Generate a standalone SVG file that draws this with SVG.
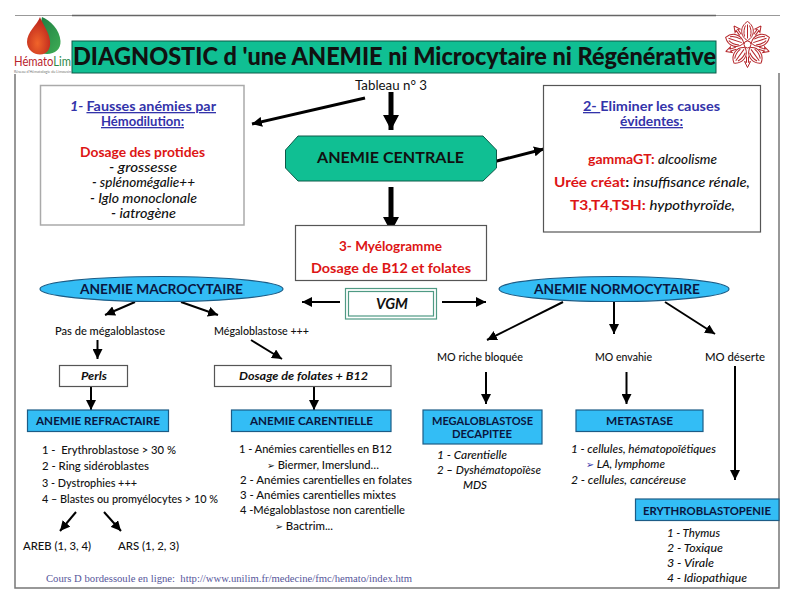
<svg xmlns="http://www.w3.org/2000/svg" xmlns:xlink="http://www.w3.org/1999/xlink" width="800" height="602" viewBox="0 0 800 602">
<style>
text{font-family:"Lato","Open Sans",sans-serif;fill:#111;font-size:12px;white-space:pre}
.t{font-size:12px;font-weight:500}
.i{font-style:italic;font-size:12.500px;font-weight:500}
.s{font-style:italic;font-size:12px;font-weight:500}
.bb{font-weight:700;font-size:11.500px;fill:#0a1640}
.h{font-weight:700;font-size:13px;fill:#3333aa}
.r{font-weight:700;font-size:13px;fill:#dd1515}
.u{text-decoration:underline}
.box{fill:#fff;stroke:#555;stroke-width:1.2}
.gbox{fill:#fff;stroke:#aaa;stroke-width:1.5}
.blue{fill:#33bdf5;stroke:#1c5c86;stroke-width:1.2}
.green{fill:#10bf93;stroke:#0c5a48;stroke-width:1}
.a{fill:none;stroke:#000;stroke-width:2}
.a3{fill:none;stroke:#000;stroke-width:3}
.a5{fill:none;stroke:#000;stroke-width:5}
.f{fill:none;stroke:#b5262a;stroke-width:1}
</style>
<defs>
<marker id="m" markerUnits="userSpaceOnUse" markerWidth="11" markerHeight="10" refX="10" refY="5" orient="auto"><path d="M0 0L10 5L0 10Z" fill="#000"/></marker>
<marker id="m5" markerUnits="userSpaceOnUse" markerWidth="16" markerHeight="16" refX="15" refY="8" orient="auto"><path d="M0 0L15 8L0 16Z" fill="#000"/></marker>
<radialGradient id="rd" cx="0.45" cy="0.7" r="0.7"><stop offset="0" stop-color="#f0642a"/><stop offset="1" stop-color="#b8201c"/></radialGradient>
<linearGradient id="gr" x1="0" y1="0" x2="1" y2="1"><stop offset="0" stop-color="#1c7a42"/><stop offset="1" stop-color="#3fae55"/></linearGradient>
<g id="petal">
<path class="f" d="M0 -4C-7.500 -8 -8 -18 0 -23C8 -18 7.500 -8 0 -4Z"/>
<path class="f" d="M0 -6V-20M-3 -8C-4 -12 -3.500 -16 -2 -19M3 -8C4 -12 3.500 -16 2 -19"/>
</g>
<path id="tip" class="f" d="M0 -23L-3 -17L-1 -18V-12M0 -23L3 -17L1 -18V-12"/>
</defs>

<g id="frame" fill="none">
<path d="M15 15.500H72M716 15.500H780" stroke="#999" stroke-width="1"/>
<path d="M72 15.500H716" stroke="#666" stroke-width="1.500"/>
<path d="M15 74V588H779V73" stroke="#777" stroke-width="1.500"/>
</g>

<g id="logo-hematolim">
<path d="M42 17C50 20 60 30 60.500 41C61 49 55 54 47 54C40 54 36 50 37 40Z" fill="url(#gr)"/>
<path d="M40 17C37 25 27 32 27 42C27 50 34 54.500 40 54.500C47 54.500 51 49 50 41C49 32 43 25 40 17Z" fill="url(#rd)"/>
<text x="14" y="66" style="font-size:13px" textLength="57" lengthAdjust="spacingAndGlyphs"><tspan style="fill:#b8242c">Hémato</tspan><tspan style="fill:#2d8a4a">Lim</tspan></text>
<text x="14" y="72.500" style="font-size:3.500px;fill:#777" textLength="57" lengthAdjust="spacingAndGlyphs">Réseau d'Hématologie du Limousin</text>
</g>

<g id="logo-flower" transform="translate(747.500 44.500)">
<use xlink:href="#petal" href="#petal"/>
<use xlink:href="#petal" href="#petal" transform="rotate(72)"/>
<use xlink:href="#petal" href="#petal" transform="rotate(144)"/>
<use xlink:href="#petal" href="#petal" transform="rotate(216)"/>
<use xlink:href="#petal" href="#petal" transform="rotate(288)"/>
<use xlink:href="#tip" href="#tip" transform="rotate(36)"/>
<use xlink:href="#tip" href="#tip" transform="rotate(108)"/>
<use xlink:href="#tip" href="#tip" transform="rotate(180)"/>
<use xlink:href="#tip" href="#tip" transform="rotate(252)"/>
<use xlink:href="#tip" href="#tip" transform="rotate(324)"/>
<circle r="3.500" fill="#fff" stroke="#b5262a"/>
</g>

<g id="title">
<rect class="green" x="72" y="41" width="644" height="32"/>
<text x="73" y="65" style="font-weight:900;font-size:24px" textLength="643" lengthAdjust="spacingAndGlyphs">DIAGNOSTIC d 'une ANEMIE ni Microcytaire ni Régénérative</text>
</g>

<g id="connectors">
<path class="a3" marker-end="url(#m)" d="M365 98L252 124"/>
<path class="a5" marker-end="url(#m5)" d="M391 92V130"/>
<path class="a3" marker-end="url(#m)" d="M493 162L544 149"/>
<path class="a5" marker-end="url(#m5)" d="M391 187V232"/>
<path class="a" marker-end="url(#m)" d="M340 302H302"/>
<path class="a" marker-end="url(#m)" d="M442 302H486"/>
<path class="a" marker-end="url(#m)" d="M135 302L105 315"/>
<path class="a" marker-end="url(#m)" d="M181 302L218 315"/>
<path class="a" marker-end="url(#m)" d="M97.500 340V359"/>
<path class="a" marker-end="url(#m)" d="M251 340L282 359"/>
<path class="a" marker-end="url(#m)" d="M91 385V410"/>
<path class="a" marker-end="url(#m)" d="M314 385V410"/>
<path class="a" marker-end="url(#m)" d="M563 302L487 340"/>
<path class="a" marker-end="url(#m)" d="M614 302V334"/>
<path class="a" marker-end="url(#m)" d="M665 302L715 334"/>
<path class="a" marker-end="url(#m)" d="M486 372V404"/>
<path class="a" marker-end="url(#m)" d="M626.500 372V404"/>
<path class="a" marker-end="url(#m)" d="M735 366V480"/>
<path class="a" marker-end="url(#m)" d="M76 512L60 531"/>
<path class="a" marker-end="url(#m)" d="M104 512L121 531"/>
</g>

<g id="tableau"><text x="355" y="90" style="font-size:13.500px" textLength="72" lengthAdjust="spacingAndGlyphs">Tableau n° 3</text></g>

<g id="box-hemodilution">
<rect class="gbox" x="40.500" y="85.500" width="203.500" height="139.500"/>
<text class="h" x="70" y="111" textLength="146" lengthAdjust="spacingAndGlyphs"><tspan font-style="italic">1- </tspan><tspan class="u">Fausses anémies par</tspan></text>
<text class="h u" x="101" y="126" textLength="83" lengthAdjust="spacingAndGlyphs">Hémodilution:</text>
<text class="r" x="80" y="157" textLength="125" lengthAdjust="spacingAndGlyphs">Dosage des protides</text>
<text class="i" x="109" y="172" textLength="68" lengthAdjust="spacingAndGlyphs">- grossesse</text>
<text class="i" x="92" y="187" textLength="103" lengthAdjust="spacingAndGlyphs">- splénomégalie++</text>
<text class="i" x="90" y="203" textLength="107" lengthAdjust="spacingAndGlyphs">- Iglo monoclonale</text>
<text class="i" x="111" y="218" textLength="65" lengthAdjust="spacingAndGlyphs">- iatrogène</text>
</g>

<g id="box-causes">
<rect class="box" x="543.500" y="85.500" width="217" height="146.500"/>
<text class="h" x="583" y="111" textLength="137" lengthAdjust="spacingAndGlyphs"><tspan class="u">2- </tspan>Eliminer les causes</text>
<text class="h u" x="620" y="126" textLength="63" lengthAdjust="spacingAndGlyphs">évidentes:</text>
<text x="588" y="164" textLength="129" lengthAdjust="spacingAndGlyphs"><tspan class="r">gammaGT: </tspan><tspan class="i">alcoolisme</tspan></text>
<text x="554" y="187" textLength="196" lengthAdjust="spacingAndGlyphs"><tspan class="r">Urée créat</tspan><tspan style="font-weight:700;font-size:13px">: </tspan><tspan class="i">insuffisance rénale,</tspan></text>
<text x="570" y="210" textLength="165" lengthAdjust="spacingAndGlyphs"><tspan class="r">T3,T4,TSH: </tspan><tspan class="i">hypothyroïde,</tspan></text>
</g>

<g id="anemie-centrale">
<path class="green" d="M298 136H483L496.500 150V168L483 181H298L285.500 168V150Z"/>
<text x="317" y="163" style="font-size:16px;font-weight:700" textLength="147" lengthAdjust="spacingAndGlyphs">ANEMIE CENTRALE</text>
</g>

<g id="myelogramme">
<rect class="box" x="295.500" y="225.500" width="191" height="55"/>
<text class="r" x="339" y="251" textLength="103" lengthAdjust="spacingAndGlyphs">3- Myélogramme</text>
<text class="r" x="311" y="273" textLength="160" lengthAdjust="spacingAndGlyphs">Dosage de B12 et folates</text>
</g>

<g id="vgm">
<rect x="345.500" y="288.500" width="91" height="30.500" fill="#fff" stroke="#4f9a84" stroke-width="1.200"/>
<rect x="348.500" y="291.500" width="85" height="24.500" fill="#fff" stroke="#4f9a84" stroke-width="1.200"/>
<text x="376" y="309" style="font-size:15px;font-weight:700;font-style:italic" textLength="32" lengthAdjust="spacingAndGlyphs">VGM</text>
</g>

<g id="anemie-macrocytaire">
<ellipse class="blue" cx="161.500" cy="289" rx="121.500" ry="12.500"/>
<text x="80" y="294" style="font-size:13.500px;font-weight:700;fill:#0a1640" textLength="163" lengthAdjust="spacingAndGlyphs">ANEMIE MACROCYTAIRE</text>
</g>
<g id="anemie-normocytaire">
<ellipse class="blue" cx="614" cy="289" rx="115" ry="12.500"/>
<text x="534" y="294" style="font-size:13.500px;font-weight:700;fill:#0a1640" textLength="166" lengthAdjust="spacingAndGlyphs">ANEMIE NORMOCYTAIRE</text>
</g>

<g id="pas-megalo"><text class="t" x="55" y="335" textLength="110" lengthAdjust="spacingAndGlyphs">Pas de mégaloblastose</text></g>
<g id="megalo"><text class="t" x="214" y="335" textLength="95" lengthAdjust="spacingAndGlyphs">Mégaloblastose +++</text></g>

<g id="perls">
<rect class="box" x="59.500" y="365.500" width="68" height="21"/>
<text x="81" y="380" style="font-size:11.500px;font-weight:700;font-style:italic" textLength="26" lengthAdjust="spacingAndGlyphs">Perls</text>
</g>
<g id="dosage">
<rect class="box" x="214.500" y="365.500" width="176.500" height="21"/>
<text x="239" y="380" style="font-size:11.500px;font-weight:700;font-style:italic" textLength="129" lengthAdjust="spacingAndGlyphs">Dosage de folates + B12</text>
</g>

<g id="anemie-refractaire">
<rect class="blue" x="27.500" y="410" width="141" height="21.500"/>
<text class="bb" x="36" y="425" textLength="124" lengthAdjust="spacingAndGlyphs">ANEMIE REFRACTAIRE</text>
<text class="t" x="42" y="454" textLength="134" lengthAdjust="spacingAndGlyphs">1 -  Erythroblastose &gt; 30 %</text>
<text class="t" x="42" y="470" textLength="107" lengthAdjust="spacingAndGlyphs">2 - Ring sidéroblastes</text>
<text class="t" x="42" y="487" textLength="95" lengthAdjust="spacingAndGlyphs">3 - Dystrophies +++</text>
<text class="t" x="42" y="503" textLength="176" lengthAdjust="spacingAndGlyphs">4 – Blastes ou promyélocytes &gt; 10 %</text>
</g>
<g id="areb"><text class="t" x="23" y="550" textLength="68" lengthAdjust="spacingAndGlyphs">AREB (1, 3, 4)</text></g>
<g id="ars"><text class="t" x="118" y="550" textLength="61" lengthAdjust="spacingAndGlyphs">ARS (1, 2, 3)</text></g>

<g id="anemie-carentielle">
<rect class="blue" x="231.500" y="410" width="159.500" height="21.500"/>
<text class="bb" x="250" y="425" textLength="123" lengthAdjust="spacingAndGlyphs">ANEMIE CARENTIELLE</text>
<text class="t" x="239" y="453" textLength="153" lengthAdjust="spacingAndGlyphs">1 - Anémies carentielles en B12</text>
<text class="t" x="267" y="469" textLength="112" lengthAdjust="spacingAndGlyphs"><tspan font-family="DejaVu Sans" font-size="10">➢</tspan> Biermer, Imerslund…</text>
<text class="t" x="240" y="484" textLength="172" lengthAdjust="spacingAndGlyphs">2 - Anémies carentielles en folates</text>
<text class="t" x="240" y="499" textLength="156" lengthAdjust="spacingAndGlyphs">3 - Anémies carentielles mixtes</text>
<text class="t" x="240" y="514" textLength="165" lengthAdjust="spacingAndGlyphs">4 -Mégaloblastose non carentielle</text>
<text class="t" x="275" y="530" textLength="58" lengthAdjust="spacingAndGlyphs"><tspan font-family="DejaVu Sans" font-size="10">➢</tspan> Bactrim...</text>
</g>

<g id="mo-riche"><text class="t" x="437" y="361" textLength="86" lengthAdjust="spacingAndGlyphs">MO riche bloquée</text></g>
<g id="mo-envahie"><text class="t" x="595" y="361" textLength="57" lengthAdjust="spacingAndGlyphs">MO envahie</text></g>
<g id="mo-deserte"><text class="t" x="705" y="361" textLength="60" lengthAdjust="spacingAndGlyphs">MO déserte</text></g>

<g id="megaloblastose-decapitee">
<rect class="blue" x="423" y="410" width="119" height="34"/>
<text class="bb" x="432" y="425" textLength="101" lengthAdjust="spacingAndGlyphs" style="font-size:11px">MEGALOBLASTOSE</text>
<text class="bb" x="452" y="438" textLength="60" lengthAdjust="spacingAndGlyphs" style="font-size:11px">DECAPITEE</text>
<text class="s" x="437" y="459" textLength="70" lengthAdjust="spacingAndGlyphs">1 - Carentielle</text>
<text class="s" x="437" y="474" textLength="104" lengthAdjust="spacingAndGlyphs">2 – Dyshématopoïèse</text>
<text class="s" x="463" y="489" textLength="24" lengthAdjust="spacingAndGlyphs">MDS</text>
</g>

<g id="metastase">
<rect class="blue" x="576" y="410" width="127" height="21.500"/>
<text class="bb" x="606" y="425" textLength="67" lengthAdjust="spacingAndGlyphs">METASTASE</text>
<text class="s" x="571" y="453" textLength="145" lengthAdjust="spacingAndGlyphs">1 - cellules, hématopoïétiques</text>
<text class="s" x="586" y="468" textLength="79" lengthAdjust="spacingAndGlyphs"><tspan font-family="DejaVu Sans" font-size="10" style="fill:#3333aa">➢</tspan> LA, lymphome</text>
<text class="s" x="571" y="484" textLength="115" lengthAdjust="spacingAndGlyphs">2 - cellules, cancéreuse</text>
</g>

<g id="erythroblastopenie">
<rect class="blue" x="635.500" y="499" width="143.500" height="21.500"/>
<text class="bb" x="643" y="515" textLength="128" lengthAdjust="spacingAndGlyphs">ERYTHROBLASTOPENIE</text>
<text class="s" x="667" y="537" textLength="53" lengthAdjust="spacingAndGlyphs">1 - Thymus</text>
<text class="s" x="667" y="552" textLength="56" lengthAdjust="spacingAndGlyphs">2 - Toxique</text>
<text class="s" x="667" y="567" textLength="47" lengthAdjust="spacingAndGlyphs">3 - Virale</text>
<text class="s" x="667" y="582" textLength="80" lengthAdjust="spacingAndGlyphs">4 - Idiopathique</text>
</g>

<g id="footer"><text x="46" y="582" style="font-family:'Liberation Serif',serif;font-size:10.500px;fill:#56569a" textLength="366" lengthAdjust="spacingAndGlyphs">Cours D bordessoule en ligne:  http://www.unilim.fr/medecine/fmc/hemato/index.htm</text></g>
</svg>
